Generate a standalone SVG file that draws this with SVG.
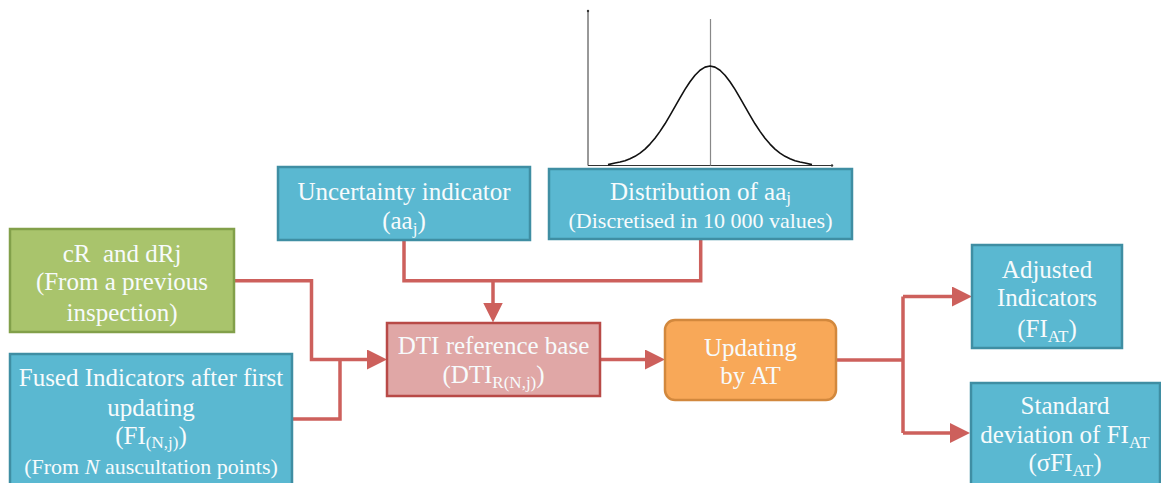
<svg xmlns="http://www.w3.org/2000/svg" width="1161" height="483" viewBox="0 0 1161 483">
<style>
.t{font-family:"Liberation Serif","Times New Roman",serif;font-size:25px;fill:#f7fbfc;text-anchor:middle}
.s{font-size:22px}
.sub{font-size:17px}
.blue{fill:#5ab8d1;stroke:#3f8ea3;stroke-width:2.5}
.green{fill:#a9c46c;stroke:#82a04a;stroke-width:2.5}
.red{fill:#e0a7a6;stroke:#b84a47;stroke-width:2.5}
.orange{fill:#f8a858;stroke:#d2883d;stroke-width:2.5}
.c{fill:none;stroke:#cd605c;stroke-width:3.5}
</style>
<defs>
<marker id="ah" viewBox="0 0 20 20" refX="4" refY="10" markerWidth="20" markerHeight="20" markerUnits="userSpaceOnUse" orient="auto">
<path d="M0,0 L20,10 L0,20 z" fill="#cd605c"/>
</marker>
</defs>
<g id="chart">
<path d="M588,165.5 V11 M588,165.5 H832" stroke="#333" stroke-width="1" fill="none"/>
<circle cx="588" cy="11" r="1.2" fill="#333"/>
<circle cx="832" cy="165.5" r="1.2" fill="#333"/>
<path d="M710.5,19 V165.5" stroke="#888" stroke-width="1.2" fill="none"/>
<polyline fill="none" stroke="#111" stroke-width="1.6" stroke-linejoin="round" points="608,164.6 615,163.0 620,162.0 625,160.7 630,158.8 635,156.3 640,153.1 645,149.1 650,144.1 655,138.3 660,131.4 665,123.8 670,115.4 675,106.7 680,97.9 685,89.4 690,81.7 695,75.2 700,70.2 705,67.1 710,66 715,67.1 720,70.2 725,75.2 730,81.7 735,89.4 740,97.9 745,106.7 750,115.4 755,123.8 760,131.4 765,138.3 770,144.1 775,149.1 780,153.1 785,156.3 790,158.8 795,160.7 800,162.0 805,163.0 812,164.6"/>
</g>
<g id="connectors">
<path class="c" d="M404,240 V280.7 H700.7 V239"/>
<path class="c" d="M493,280.7 V306.5" marker-end="url(#ah)"/>
<path class="c" d="M234,280.7 H311.5 V359.5 H371" marker-end="url(#ah)"/>
<path class="c" d="M292,419 H340 V359.5"/>
<path class="c" d="M600,359.5 H649" marker-end="url(#ah)"/>
<path class="c" d="M836,360 H903"/>
<path class="c" d="M903,296.5 V433"/>
<path class="c" d="M903,296.5 H956" marker-end="url(#ah)"/>
<path class="c" d="M903,433 H954" marker-end="url(#ah)"/>
</g>
<g id="uncertainty">
<rect class="blue" x="278" y="167" width="252" height="73"/>
<text class="t" x="404" y="200">Uncertainty indicator</text>
<text class="t" x="404" y="229">(aa<tspan class="sub" dy="5">j</tspan><tspan dy="-5">)</tspan></text>
</g>
<g id="distribution">
<rect class="blue" x="549" y="169" width="303" height="70"/>
<text class="t" x="700.5" y="200">Distribution of aa<tspan class="sub" dy="3">j</tspan></text>
<text class="t s" x="700.5" y="228">(Discretised in 10 000 values)</text>
</g>
<g id="previous">
<rect class="green" x="10" y="229" width="224" height="103"/>
<text class="t" x="122" y="262">cR&#160; and dRj</text>
<text class="t" x="122" y="290">(From a previous</text>
<text class="t" x="122" y="321">inspection)</text>
</g>
<g id="fused">
<rect class="blue" x="10" y="354" width="282" height="140"/>
<text class="t" x="151" y="386">Fused Indicators after first</text>
<text class="t" x="151" y="416">updating</text>
<text class="t" x="151" y="444">(FI<tspan class="sub" dy="4">(N,j)</tspan><tspan dy="-4">)</tspan></text>
<text class="t s" x="151" y="474">(From <tspan font-style="italic">N</tspan> auscultation points)</text>
</g>
<g id="dti">
<rect class="red" x="387" y="323" width="213" height="73"/>
<text class="t" x="493.5" y="354">DTI reference base</text>
<text class="t" x="493.5" y="383">(DTI<tspan class="sub" dy="5">R(N,j)</tspan><tspan dy="-5">)</tspan></text>
</g>
<g id="updating">
<rect class="orange" x="665" y="320" width="171" height="80" rx="10"/>
<text class="t" x="750.5" y="356">Updating</text>
<text class="t" x="750.5" y="384">by AT</text>
</g>
<g id="adjusted">
<rect class="blue" x="972" y="245" width="150" height="103"/>
<text class="t" x="1047" y="278">Adjusted</text>
<text class="t" x="1047" y="306">Indicators</text>
<text class="t" x="1047" y="337">(FI<tspan class="sub" dy="5">AT</tspan><tspan dy="-5">)</tspan></text>
</g>
<g id="stddev">
<rect class="blue" x="971" y="383" width="189" height="110"/>
<text class="t" x="1065" y="414">Standard</text>
<text class="t" x="1065" y="443">deviation of FI<tspan class="sub" dy="5">AT</tspan></text>
<text class="t" x="1065" y="471">(σFI<tspan class="sub" dy="5">AT</tspan><tspan dy="-5">)</tspan></text>
</g>
</svg>
